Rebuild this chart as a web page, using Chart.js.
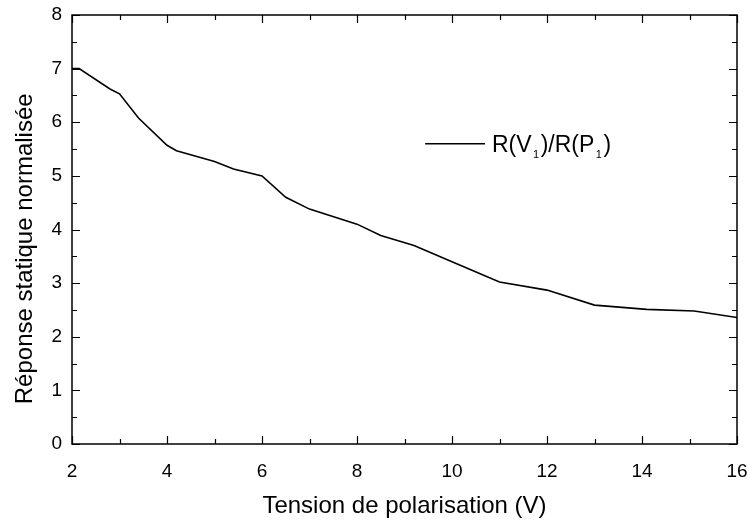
<!DOCTYPE html>
<html>
<head>
<meta charset="utf-8">
<script src="https://cdn.jsdelivr.net/npm/chart.js@4/dist/chart.umd.min.js"></script>
<style>
  body { margin: 0; background: #fff; }
  canvas { display: block; }
</style>
</head>
<body>
<canvas id="chartCanvas" width="749" height="525"></canvas>
<script>
// tension de polarisation (V) et réponse normalisée
const voltages = [2.0, 2.15, 2.8, 3.0, 3.4, 4.0, 4.2, 5.0, 5.4, 6.0, 6.5, 7.0, 8.0, 8.5, 9.2, 10.0, 11.0, 12.0, 13.0, 14.1, 15.1, 16.0];
const reponse = [7.0, 7.0, 6.62, 6.53, 6.08, 5.57, 5.47, 5.27, 5.13, 5.0, 4.6, 4.38, 4.1, 3.89, 3.70, 3.40, 3.02, 2.87, 2.59, 2.51, 2.48, 2.36];
const xRange = [2, 16];
const yRange = [0, 8];
const seriesName = ["R(V", "1", ")/R(P", "1", ")"]; // R(V1)/R(P1), indices en bas
const xTitle = "Tension de polarisation (V)";
const yTitle = "Réponse statique normalisée";

const FONT = "'Liberation Sans', Arial, sans-serif";

// cadre + graduations vers l'intérieur sur les 4 côtés
const frameTicks = {
  id: "frameTicks",
  afterDatasetsDraw(chart) {
    const { ctx, chartArea: a, scales: { x, y } } = chart;
    ctx.save();
    ctx.strokeStyle = "#000";
    ctx.lineWidth = 1.5;
    ctx.strokeRect(a.left, a.top, a.right - a.left, a.bottom - a.top);
    ctx.lineWidth = 1.2;
    ctx.beginPath();
    for (let v = xRange[0]; v <= xRange[1]; v += 1) {
      const len = v % 2 === 0 ? 8 : 5;
      const px = Math.round(x.getPixelForValue(v)) + 0.5;
      ctx.moveTo(px, a.bottom); ctx.lineTo(px, a.bottom - len);
      ctx.moveTo(px, a.top); ctx.lineTo(px, a.top + len);
    }
    for (let v = yRange[0]; v <= yRange[1]; v += 0.5) {
      const len = Number.isInteger(v) ? 8 : 5;
      const py = Math.round(y.getPixelForValue(v)) + 0.5;
      ctx.moveTo(a.left, py); ctx.lineTo(a.left + len, py);
      ctx.moveTo(a.right, py); ctx.lineTo(a.right - len, py);
    }
    ctx.stroke();
    ctx.restore();
  }
};

// titre de l'axe y (un peu plus bas que le centre, comme l'original)
const yAxisTitle = {
  id: "yAxisTitle",
  afterDraw(chart) {
    const { ctx, chartArea: a } = chart;
    ctx.save();
    ctx.translate(32, a.top + 0.545 * (a.bottom - a.top));
    ctx.rotate(-Math.PI / 2);
    ctx.font = "24px " + FONT;
    ctx.fillStyle = "#000";
    ctx.textAlign = "center";
    ctx.textBaseline = "alphabetic";
    ctx.fillText(yTitle, 0, 0);
    ctx.restore();
  }
};

// légende dans la zone du graphe, avec indices
const insideLegend = {
  id: "insideLegend",
  afterDraw(chart) {
    const { ctx, chartArea: a } = chart;
    const w = a.right - a.left, h = a.bottom - a.top;
    const x0 = a.left + 0.531 * w, x1 = a.left + 0.621 * w;
    const ly = a.top + 0.30 * h;
    ctx.save();
    ctx.strokeStyle = "#000";
    ctx.lineWidth = 1.6;
    ctx.beginPath();
    ctx.moveTo(x0, ly); ctx.lineTo(x1, ly);
    ctx.stroke();
    ctx.fillStyle = "#000";
    ctx.textBaseline = "alphabetic";
    let tx = x1 + 7;
    const base = ly + 8;
    seriesName.forEach((part, i) => {
      const sub = i % 2 === 1;
      ctx.font = (sub ? "11px " : "23px ") + FONT;
      ctx.fillText(part, tx, sub ? base + 6 : base);
      tx += ctx.measureText(part).width + 1.5;
    });
    ctx.restore();
  }
};

const ctx = document.getElementById("chartCanvas").getContext("2d");
new Chart(ctx, {
  type: "line",
  data: {
    datasets: [{
      label: seriesName.join(""),
      data: voltages.map((v, i) => ({ x: v, y: reponse[i] })),
      borderColor: "#000",
      borderWidth: 1.6,
      pointRadius: 0,
      fill: false,
      tension: 0
    }]
  },
  options: {
    responsive: false,
    devicePixelRatio: 1,
    animation: false,
    layout: { padding: { top: 15, right: 12, left: 0, bottom: 0 } },
    plugins: { legend: { display: false }, tooltip: { enabled: false } },
    scales: {
      x: {
        type: "linear",
        min: xRange[0], max: xRange[1],
        afterFit: (s) => { s.height = 81; s.paddingLeft = 0; s.paddingRight = 0; },
        grid: { display: false, drawTicks: false },
        border: { display: false },
        ticks: { stepSize: 2, padding: 16, color: "#000", font: { family: FONT, size: 19 } },
        title: { display: true, text: xTitle, color: "#000", padding: { top: 0, bottom: 4 }, font: { family: FONT, size: 24 } }
      },
      y: {
        type: "linear",
        min: yRange[0], max: yRange[1],
        afterFit: (s) => { s.width = 72; s.paddingTop = 0; s.paddingBottom = 0; },
        grid: { display: false, drawTicks: false },
        border: { display: false },
        ticks: { stepSize: 1, padding: 10, color: "#000", font: { family: FONT, size: 19 } },
        title: { display: false }
      }
    }
  },
  plugins: [frameTicks, yAxisTitle, insideLegend]
});
</script>
</body>
</html>
